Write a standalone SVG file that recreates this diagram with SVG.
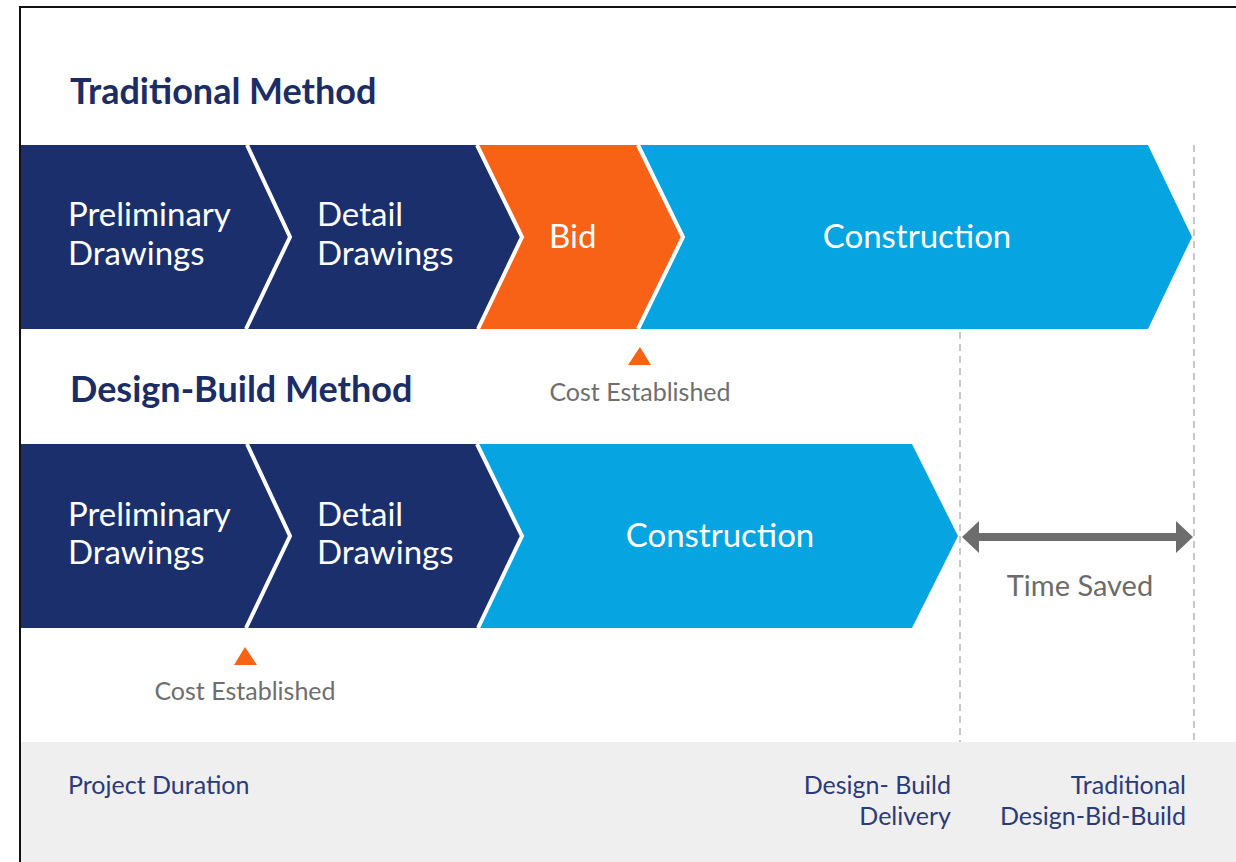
<svg xmlns="http://www.w3.org/2000/svg" width="1236" height="862" viewBox="0 0 1236 862">
  <style>
    .navy { fill: #1a2f6b; }
    .orange { fill: #f86216; }
    .blue { fill: #06a4e0; }
    .sep { fill: none; stroke: #ffffff; stroke-width: 4; stroke-linejoin: miter; }
    .title { font-family: Lato, "Liberation Sans", sans-serif; font-weight: bold; font-size: 36px; fill: #1b2d64; }
    .label { font-family: Lato, "Liberation Sans", sans-serif; font-size: 33px; fill: #ffffff; }
    .cost { font-family: Lato, "Liberation Sans", sans-serif; font-size: 25px; fill: #6e6e6e; }
    .tri { fill: #f86216; }
    .foot { font-family: Lato, "Liberation Sans", sans-serif; font-size: 25px; fill: #2b3a78; }
    .dash { stroke: #c8c8c8; stroke-width: 2; stroke-dasharray: 7 5; fill: none; }
    .arrow { fill: #6d6d6d; }
  </style>

  <rect x="0" y="0" width="1236" height="862" fill="#ffffff"/>
  <rect x="21" y="742" width="1215" height="120" fill="#efefef"/>
  <path d="M20,862 V7 H1236" fill="none" stroke="#111111" stroke-width="2"/>

  <text class="title" x="70" y="104">Traditional Method</text>
  <text class="title" x="70" y="402">Design-Build Method</text>

  <g id="trad-prelim">
    <polygon class="navy" points="21,145 247,145 290,237 247,329 21,329"/>
    <text class="label" x="68" y="226">Preliminary</text>
    <text class="label" x="68" y="265">Drawings</text>
  </g>
  <g id="trad-detail">
    <polygon class="navy" points="247,145 477,145 522,237 477,329 247,329 290,237"/>
    <text class="label" x="317" y="226">Detail</text>
    <text class="label" x="317" y="265">Drawings</text>
  </g>
  <g id="trad-bid">
    <polygon class="orange" points="477,145 638,145 683,237 638,329 477,329 522,237"/>
    <text class="label" x="549" y="248">Bid</text>
  </g>
  <g id="trad-construction">
    <polygon class="blue" points="638,145 1148,145 1192,237 1148,329 638,329 683,237"/>
    <text class="label" x="917" y="248" text-anchor="middle">Construction</text>
  </g>
  <g id="trad-separators">
    <polyline class="sep" points="247,145 290,237 246,329"/>
    <polyline class="sep" points="477,145 522,237 478,329"/>
    <polyline class="sep" points="638,145 683,237 638,329"/>
  </g>

  <g id="trad-cost">
    <polygon class="tri" points="628,365 651,365 640,347"/>
    <text class="cost" x="640" y="401" text-anchor="middle">Cost Established</text>
  </g>

  <g id="db-prelim">
    <polygon class="navy" points="21,444 247,444 290,536 247,628 21,628"/>
    <text class="label" x="68" y="526">Preliminary</text>
    <text class="label" x="68" y="564">Drawings</text>
  </g>
  <g id="db-detail">
    <polygon class="navy" points="247,444 477,444 522,536 477,628 247,628 290,536"/>
    <text class="label" x="317" y="526">Detail</text>
    <text class="label" x="317" y="564">Drawings</text>
  </g>
  <g id="db-construction">
    <polygon class="blue" points="477,444 912,444 958,536 912,628 477,628 522,536"/>
    <text class="label" x="720" y="547" text-anchor="middle">Construction</text>
  </g>
  <g id="db-separators">
    <polyline class="sep" points="247,444 290,536 246,628"/>
    <polyline class="sep" points="477,444 522,536 478,628"/>
  </g>

  <g id="db-cost">
    <polygon class="tri" points="234,665 257,665 245,647"/>
    <text class="cost" x="245" y="700" text-anchor="middle">Cost Established</text>
  </g>

  <g id="connectors">
    <line class="dash" x1="960" y1="332" x2="960" y2="742"/>
    <line class="dash" x1="1194" y1="145" x2="1194" y2="742"/>
    <rect class="arrow" x="975" y="533" width="204" height="8"/>
    <polygon class="arrow" points="962,537 979,521 979,553"/>
    <polygon class="arrow" points="1193,537 1176,521 1176,553"/>
  </g>

  <g id="time-saved">
    <text x="1080" y="596" text-anchor="middle" font-family="Lato, 'Liberation Sans', sans-serif" font-size="29" fill="#6b6b6b">Time Saved</text>
  </g>

  <g id="footer">
    <text class="foot" x="68" y="794">Project Duration</text>
    <text class="foot" x="951" y="794" text-anchor="end">Design- Build</text>
    <text class="foot" x="951" y="825" text-anchor="end">Delivery</text>
    <text class="foot" x="1186" y="794" text-anchor="end">Traditional</text>
    <text class="foot" x="1186" y="825" text-anchor="end">Design-Bid-Build</text>
  </g>
</svg>
